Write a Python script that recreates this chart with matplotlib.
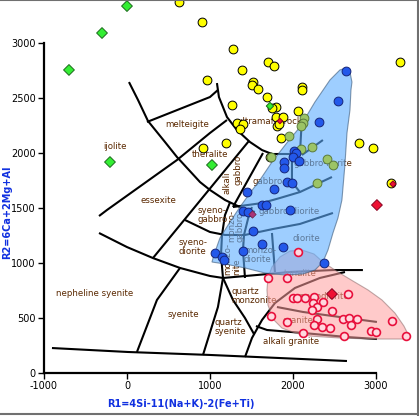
import matplotlib
matplotlib.use('Agg')
import matplotlib.pyplot as plt
from matplotlib.patches import Polygon
from matplotlib.lines import Line2D

plt.rcParams['font.family'] = ['DejaVu Sans']
plt.rcParams['axes.unicode_minus'] = False

# ---------- field boundaries (R1, R2) ----------
base_x = [-904, 12, 1000, 1843, 2651]
base_y = [227, 191, 164, 136, 109]

syenite_top_x = [-337, 0, 313, 639, 1000, 1157, 1566, 1964, 2482, 2843]
syenite_top_y = [1273, 1145, 1045, 955, 882, 864, 891, 918, 936, 936]

ijolite_x = [-337, -241, 602, 1000, 1205]
ijolite_y = [1427, 1482, 1936, 2182, 2300]

melteigite_arc_x = [24, 133, 253, 458, 602, 880, 1000, 1181, 1386, 1542]
melteigite_arc_y = [2645, 2482, 2291, 2100, 1964, 1736, 1664, 1573, 1500, 1464]

melteigite_low_x = [241, 1000, 1096]
melteigite_low_y = [2282, 2509, 2573]

ultramafic_x = [1084, 1108, 1205, 1325, 1482, 1627, 1747, 2084]
ultramafic_y = [2636, 2509, 2327, 2209, 2100, 2027, 1991, 1991]

olgab_up_x = [2084, 2108]
olgab_up_y = [1991, 2318]

norite_top_x = [2108, 2361]
norite_top_y = [1982, 2118]

norite_side_x = [1988, 1988, 2084]
norite_side_y = [1936, 1736, 1645]

gabbro_low_x = [1277, 1627, 1843, 2084, 2470]
gabbro_low_y = [1509, 1545, 1591, 1645, 1782]

alkgab_side_x = [1639, 1277]
alkgab_side_y = [2000, 1509]

essexite_x = [313, 699, 1470]
essexite_y = [1045, 1400, 2110]

diorite_row_x = [699, 1000, 1181, 1422, 1759, 2084, 2482]
diorite_row_y = [1391, 1282, 1255, 1255, 1309, 1355, 1455]

syeno_monzo_x = [1157, 1133, 1145, 1181, 1241]
syeno_monzo_y = [864, 1073, 1255, 1436, 1550]

monzo_gab_x = [1422, 1398, 1410, 1470, 1506]
monzo_gab_y = [864, 1118, 1255, 1436, 1509]

monzodio_x = [1747, 1783]
monzodio_y = [1273, 918]

nesy_x = [120, 361, 639]
nesy_y = [191, 664, 955]

qzsy_x = [916, 1036, 1096, 1157]
qzsy_y = [164, 455, 600, 864]

qzmz_x = [1157, 1277, 1422, 1530]
qzmz_y = [864, 664, 500, 355]

tonalite_x = [1422, 1506, 1627, 1783, 2024, 2325, 2627]
tonalite_y = [145, 318, 482, 636, 773, 864, 918]

granite_top_x = [1807, 2120, 2651, 3012]
granite_top_y = [600, 555, 500, 464]

alkgr_top_x = [1554, 1687, 2120, 2651, 3012]
alkgr_top_y = [427, 391, 364, 327, 309]

# ---------- field names ----------
label_text = ['melteigite', 'ijolite', 'theralite', 'essexite', 'alkali', 'gabbro',
              'ultramafic rocks', 'syeno-\ngabbro', 'syeno-\ndiorite', 'monzo-\ngabbro',
              'monzo-\nnite', 'gabbro', 'gabbro-norite', 'gabbro-diorite',
              'monzo-\ndiorite', 'diorite', 'tonalite', 'granodiorite', 'granite',
              'alkali granite', 'quartz\nmonzonite', 'quartz\nsyenite', 'syenite',
              'nepheline syenite']
label_x = [723, -145, 1000, 373, 1205, 1337, 1747, 1036, 795, 1313, 1265, 1699,
           2361, 1952, 1602, 2157, 2084, 2361, 2060, 1976, 1530, 1241, 675, -386]
label_y = [2255, 2055, 1991, 1564, 1727, 1845, 2282, 1436, 1145, 1336, 1036, 1745,
           1909, 1464, 1073, 1227, 909, 691, 473, 282, 700, 418, 536, 727]
label_rot = [0, 0, 0, 0, 90, 90, 0, 0, 0, 90, 90, 0, 0, 0, 0, 0, 0, 0, 0, 0, 0, 0, 0, 0]

# ---------- sample groups ----------
yellow_x = [626, 904, 964, 916, 1277, 1699, 1771, 1386, 1518, 1506, 1578, 2108, 2108,
            1687, 1795, 1747, 1265, 2060, 1795, 1879, 1325, 1398, 1807, 1831, 1361,
            1855, 1193, 2795, 2964, 1723, 3181, 3289]
yellow_y = [3373, 3191, 2664, 2045, 2945, 2827, 2791, 2755, 2645, 2618, 2582, 2600, 2573,
            2509, 2418, 2409, 2436, 2382, 2327, 2327, 2273, 2264, 2245, 2264, 2218,
            2136, 2091, 2091, 2045, 1964, 1727, 2827]

green_x = [0, -301, -699, -205, 1024, 1723]
green_y = [3336, 3091, 2755, 1918, 1891, 2427]
green_s = [30, 30, 30, 30, 30, 14]

olive_x = [2132, 2120, 2096, 1952, 2096, 2229, 2410, 2482, 2289, 1735]
olive_y = [2318, 2273, 2245, 2155, 2036, 2055, 1945, 1891, 1727, 1964]

blue_x = [2638, 2542, 2313, 2012, 2036, 2000, 2072, 1892, 1892, 1928, 1988, 1771, 1446,
          1627, 1675, 1964, 1398, 1458, 1518, 1627, 1879, 1398, 1060, 1145, 1169, 2373]
blue_y = [2745, 2473, 2282, 2018, 2000, 1964, 1927, 1918, 1864, 1736, 1727, 1673, 1645,
          1527, 1527, 1482, 1473, 1464, 1291, 1173, 1145, 1109, 1091, 1055, 1027, 1000]

red_x = [2060, 1699, 1928, 2000, 2048, 2145, 2253, 2361, 2663, 2241, 2289, 2229, 2470,
         1735, 1928, 2289, 2253, 2349, 2446, 2602, 2675, 2771, 2699, 2940, 3000, 2120,
         2614, 3193, 3361]
red_y = [1100, 864, 864, 682, 682, 682, 691, 645, 718, 636, 600, 573, 564,
         518, 464, 491, 436, 418, 409, 491, 500, 491, 436, 382, 373, 364,
         336, 473, 336]

reddia_x = [2470, 3012, 3205, 1843]
reddia_y = [718, 1527, 1718, 2291]
reddia_s = [30, 30, 10, 8]

purple_x = [1506]
purple_y = [1445]

# outlines of the two group envelopes
blue_env_x = [2638, 2687, 2711, 2699, 2687, 2651, 2626, 2590, 2542, 2482, 2422, 2361,
              2265, 2120, 1904, 1663, 1422, 1181, 1024, 1048, 1120, 1241, 1361, 1482,
              1602, 1747, 1916, 2084, 2265, 2446, 2566]
blue_env_y = [2773, 2736, 2645, 2573, 2391, 2182, 1891, 1573, 1409, 1273, 1118, 1009,
              936, 900, 891, 909, 955, 991, 1009, 1073, 1227, 1373, 1509, 1636,
              1755, 1918, 2082, 2236, 2464, 2664, 2755]
pink_env_x = [3398, 3349, 3229, 2928, 2566, 2205, 2024, 1867, 1759, 1699, 1687, 1699,
              1747, 1843, 1964, 2108, 2253, 2361, 2542, 2723, 2904, 3072, 3229, 3337]
pink_env_y = [336, 309, 309, 309, 318, 336, 364, 409, 491, 618, 755, 864,
              964, 1055, 1109, 1118, 1082, 1009, 918, 836, 755, 664, 545, 427]


def main():
    fig = plt.figure(figsize=(4.19, 4.16), dpi=100)
    ax = fig.add_axes([44 / 419, 43 / 416, 372.6 / 419, 372 / 416])
    ax.set_xlim(-1000, 3490)
    ax.set_ylim(0, 3382)

    lines = [(base_x, base_y), (syenite_top_x, syenite_top_y), (ijolite_x, ijolite_y),
             (melteigite_arc_x, melteigite_arc_y), (melteigite_low_x, melteigite_low_y),
             (ultramafic_x, ultramafic_y), (olgab_up_x, olgab_up_y),
             (norite_top_x, norite_top_y), (norite_side_x, norite_side_y),
             (gabbro_low_x, gabbro_low_y), (alkgab_side_x, alkgab_side_y),
             (essexite_x, essexite_y), (diorite_row_x, diorite_row_y),
             (syeno_monzo_x, syeno_monzo_y), (monzo_gab_x, monzo_gab_y),
             (monzodio_x, monzodio_y), (nesy_x, nesy_y), (qzsy_x, qzsy_y),
             (qzmz_x, qzmz_y), (tonalite_x, tonalite_y),
             (granite_top_x, granite_top_y), (alkgr_top_x, alkgr_top_y)]
    for lx, ly in lines:
        ax.plot(lx, ly, color='black', lw=1.5, solid_capstyle='butt', zorder=2)

    for t, x, y, r in zip(label_text, label_x, label_y, label_rot):
        ax.text(x, y, t, rotation=r, ha='center', va='center', fontsize=6.2,
                color='#5a2800', multialignment='left', linespacing=1.0, zorder=3)

    ax.add_patch(Polygon(list(zip(pink_env_x, pink_env_y)), closed=True,
                         facecolor='#ff9f9f', edgecolor='#8a6a6a', lw=0.8,
                         alpha=0.55, zorder=4))
    ax.add_patch(Polygon(list(zip(blue_env_x, blue_env_y)), closed=True,
                         facecolor='#5eaeff', edgecolor='#3a5878', lw=0.8,
                         alpha=0.6, zorder=5))

    ax.scatter(yellow_x, yellow_y, s=40, marker='o', facecolor='#ffff00',
               edgecolor='black', lw=0.7, zorder=6)
    ax.scatter(green_x, green_y, s=green_s, marker='D', facecolor='#33ee33',
               edgecolor='#1a6a1a', lw=0.7, zorder=6)
    ax.scatter(olive_x, olive_y, s=40, marker='o', facecolor='#9cc466',
               edgecolor='#5a7a3a', lw=0.7, zorder=6)
    ax.scatter(blue_x, blue_y, s=40, marker='o', facecolor='#2358ea',
               edgecolor='#15257a', lw=0.7, zorder=7)
    ax.scatter(red_x, red_y, s=32, marker='o', facecolor='#ffd8de',
               edgecolor='#e8103c', lw=1.2, zorder=7)
    ax.scatter(reddia_x, reddia_y, s=reddia_s, marker='D', facecolor='#ee1133',
               edgecolor='#8a0020', lw=0.7, zorder=8)
    ax.scatter(purple_x, purple_y, s=14, marker='D', facecolor='#aa3377',
               edgecolor='#662244', lw=0.5, zorder=8)

    for side in ['top', 'right']:
        ax.spines[side].set_visible(False)
    ax.spines['left'].set_bounds(0, 3000)
    ax.spines['bottom'].set_bounds(-1000, 3000)
    ax.spines['left'].set_linewidth(1.6)
    ax.spines['bottom'].set_linewidth(1.6)
    ax.set_xticks([-1000, 0, 1000, 2000, 3000])
    ax.set_yticks([0, 500, 1000, 1500, 2000, 2500, 3000])
    ax.tick_params(direction='out', length=4, width=1, labelsize=7, pad=2)

    fig.text(181 / 419, 1 - 404 / 416, 'R1=4Si-11(Na+K)-2(Fe+Ti)', color='#1030e0',
             fontsize=7, fontweight='bold', ha='center', va='center')
    fig.text(7 / 419, 1 - 212 / 416, 'R2=6Ca+2Mg+Al', color='#1030e0', rotation=90,
             fontsize=7, fontweight='bold', ha='center', va='center')

    # window frame
    fig.add_artist(Line2D([0, 1], [0.999, 0.999], color='#707070', lw=1.5))
    fig.add_artist(Line2D([0.997, 0.997], [0, 1], color='#707070', lw=1.5))
    fig.add_artist(Line2D([0, 1], [0.004, 0.004], color='#707070', lw=1.5))

    fig.savefig('out.png', dpi=100)


if __name__ == '__main__':
    main()
